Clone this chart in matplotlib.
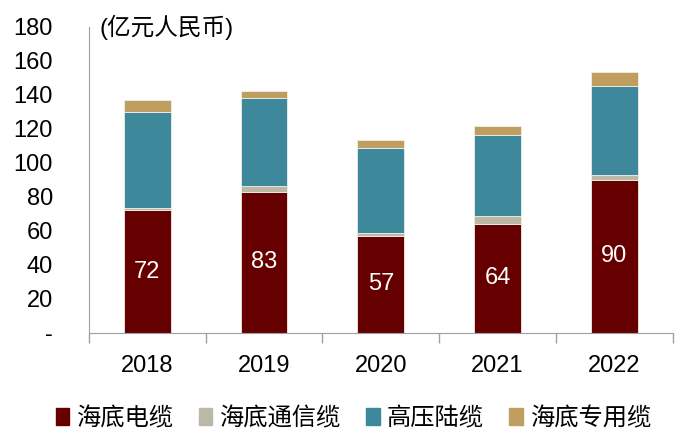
import matplotlib
matplotlib.use("Agg")
import matplotlib.pyplot as plt
import numpy as np
from matplotlib.ticker import FixedLocator

plt.rcParams['font.family'] = ['Liberation Sans', 'Noto Sans CJK SC', 'DejaVu Sans']

years = ['2018', '2019', '2020', '2021', '2022']
series_names = ['海底电缆', '海底通信缆', '高压陆缆', '海底专用缆']
subsea_power = [72, 83, 57, 64, 90]
subsea_comm = [1.5, 3.5, 2, 5, 3]
hv_land = [56.5, 51.5, 50, 47.5, 52.5]
subsea_special = [7, 4.5, 4.5, 5, 8]
yticks = [0, 20, 40, 60, 80, 100, 120, 140, 160, 180]
ytick_labels = ['-', '20', '40', '60', '80', '100', '120', '140', '160', '180']
unit_label = '(亿元人民币)'

colors = ['#660000', '#BBB9A6', '#3D889B', '#BF9E5F']

fig = plt.figure(figsize=(7, 4.48), dpi=100)
ax = fig.add_axes([0.127, 0.257, 0.834, 0.683])

x = np.arange(len(years))
width = 0.4
bottom = np.zeros(len(years))
data = [subsea_power, subsea_comm, hv_land, subsea_special]
containers = []
for vals, c, name in zip(data, colors, series_names):
    b = ax.bar(x, vals, width, bottom=bottom, color=c, label=name,
               edgecolor='#F2EEE8', linewidth=0.6)
    containers.append(b)
    bottom += np.array(vals)

ax.bar_label(containers[0], labels=[str(v) for v in subsea_power],
             label_type='center', color='white', fontsize=17)

ax.set_xlim(-0.5, len(years) - 0.5)
ax.set_ylim(0, 180)
ax.set_yticks(yticks)
ax.set_yticklabels(ytick_labels)
ax.tick_params(axis='y', length=0, pad=26, labelsize=17)
ax.set_xticks(x)
ax.set_xticklabels(years)
ax.tick_params(axis='x', which='major', length=0, pad=16, labelsize=17)
ax.xaxis.set_minor_locator(FixedLocator(np.arange(-0.5, len(years), 1)))
ax.tick_params(axis='x', which='minor', length=7, width=1, color='#A0A0A0', direction='out')

for s in ['top', 'right']:
    ax.spines[s].set_visible(False)
ax.spines['left'].set_color('#A0A0A0')
ax.spines['bottom'].set_color('#A0A0A0')

ax.text(0.019, 1.0, unit_label, transform=ax.transAxes, fontsize=17,
        va='center', ha='left')

handles = [plt.Rectangle((0, 0), 1, 1, color=c) for c in colors]
fig.legend(handles, series_names, loc='center', bbox_to_anchor=(0.505, 0.065),
           ncol=4, frameon=False, fontsize=17.5, handlelength=0.55, handleheight=0.7,
           handletextpad=0.3, columnspacing=1.05)

fig.savefig('out.png', dpi=100)
